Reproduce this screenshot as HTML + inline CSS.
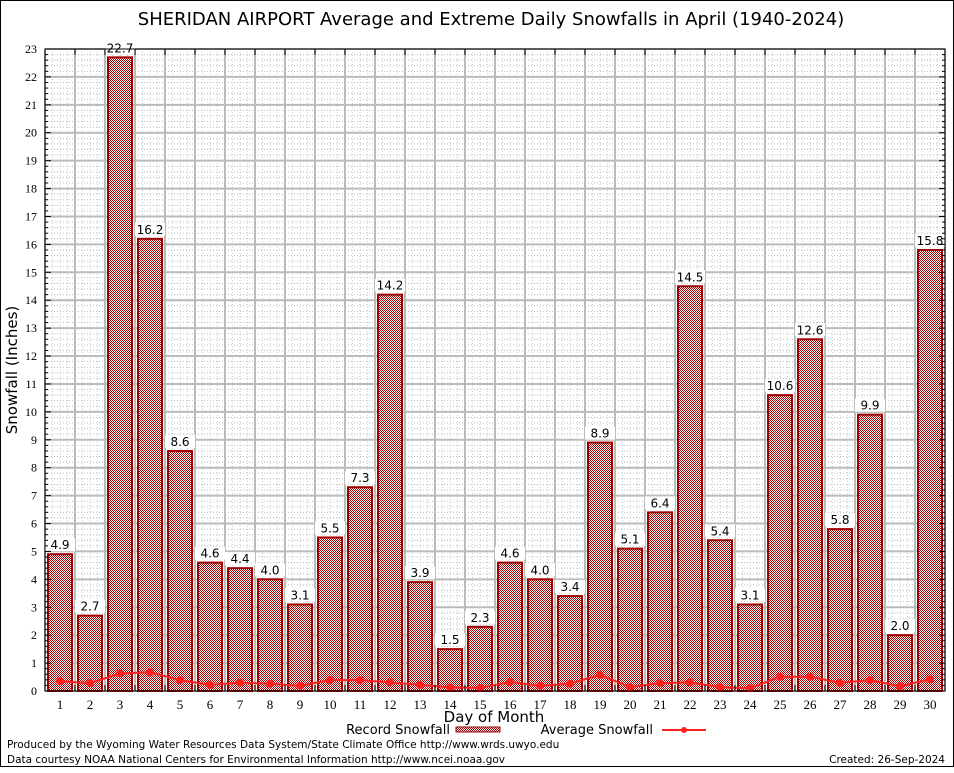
<!DOCTYPE html>
<html><head><meta charset="utf-8"><style>
body{margin:0;background:#fff;}
svg text{font-family:"DejaVu Sans","Liberation Sans",sans-serif;}
svg text.serif{font-family:"Liberation Serif",serif;}
</style></head><body>
<svg id="c" width="954" height="768" xmlns="http://www.w3.org/2000/svg">
<defs>
<pattern id="chk" width="2" height="2" patternUnits="userSpaceOnUse"><rect width="2" height="2" fill="#fff"/><rect width="1" height="1" fill="#a80000"/><rect x="1" y="1" width="1" height="1" fill="#a80000"/></pattern>
</defs>
<rect x="0.5" y="0.5" width="953" height="766" fill="#fff" stroke="#000"/>
<text x="491" y="25" font-size="18" text-anchor="middle">SHERIDAN AIRPORT Average and Extreme Daily Snowfalls in April (1940-2024)</text>
<text transform="translate(17,370) rotate(-90)" font-size="15" text-anchor="middle">Snowfall (Inches)</text>
<text x="494" y="722" font-size="15" text-anchor="middle">Day of Month</text>
<g id="grid"></g><g id="bars"></g><g id="avg"></g><g id="axes"></g>
<g>
<text x="450" y="734" font-size="13" text-anchor="end">Record Snowfall</text>
<rect x="456" y="727" width="44" height="5" fill="url(#chk)" stroke="#a00000"/>
<text x="653" y="734" font-size="13" text-anchor="end">Average Snowfall</text>
<line x1="662" y1="730" x2="706" y2="730" stroke="#ff2020" stroke-width="2"/>
<circle cx="684" cy="730" r="3" fill="#ff2020"/>
</g>
<text x="7" y="748" font-size="10.5">Produced by the Wyoming Water Resources Data System/State Climate Office http://www.wrds.uwyo.edu</text>
<text x="7" y="763" font-size="10.5">Data courtesy NOAA National Centers for Environmental Information http://www.ncei.noaa.gov</text>
<text x="945" y="763" font-size="10.5" text-anchor="end">Created: 26-Sep-2024</text>
</svg>
<script>
const days=[1,2,3,4,5,6,7,8,9,10,11,12,13,14,15,16,17,18,19,20,21,22,23,24,25,26,27,28,29,30];
const recordSnow=[4.9,2.7,22.7,16.2,8.6,4.6,4.4,4.0,3.1,5.5,7.3,14.2,3.9,1.5,2.3,4.6,4.0,3.4,8.9,5.1,6.4,14.5,5.4,3.1,10.6,12.6,5.8,9.9,2.0,15.8];
const avgSnow=[0.35,0.28,0.63,0.67,0.39,0.22,0.3,0.26,0.19,0.39,0.39,0.31,0.22,0.13,0.11,0.32,0.19,0.26,0.58,0.14,0.28,0.31,0.14,0.1,0.51,0.51,0.29,0.39,0.17,0.42];
const yTicks=[0,1,2,3,4,5,6,7,8,9,10,11,12,13,14,15,16,17,18,19,20,21,22,23];
const NS="http://www.w3.org/2000/svg";
const L=45,R=945,T=49,B=691,YMAX=23;
const xs=d=>L+(d-0.5)*(R-L)/days.length;
const ys=v=>B-v*(B-T)/YMAX;
const slot=(R-L)/days.length;
function mk(t,a,p){const e=document.createElementNS(NS,t);for(const k in a)e.setAttribute(k,a[k]);p.appendChild(e);return e;}
const grid=document.getElementById('grid'),bars=document.getElementById('bars'),avg=document.getElementById('avg'),axes=document.getElementById('axes');
mk('rect',{x:L,y:T,width:R-L,height:B-T,fill:'#fff'},grid);
for(let v=0;v<YMAX;v+=0.2){const y=ys(v);mk('line',{x1:L,y1:y,x2:R,y2:y,stroke:'#bbb','stroke-width':1,'stroke-dasharray':'1,2'},grid);}
for(let x=L;x<R;x+=slot/4){mk('line',{x1:x,y1:T,x2:x,y2:B,stroke:'#ccc','stroke-width':1,'stroke-dasharray':'1,2'},grid);}
yTicks.forEach(v=>{const y=ys(v);mk('line',{x1:L,y1:y,x2:R,y2:y,stroke:'#bbb','stroke-width':2},grid);
const t=mk('text',{x:L-8,y:y+4,'font-size':12,'text-anchor':'end','class':'serif'},axes);t.textContent=v;

});
for(let i=0;i<=days.length;i++){const x=L+i*slot;mk('line',{x1:x,y1:T,x2:x,y2:B,stroke:'#bbb','stroke-width':2},grid);
mk('line',{x1:x,y1:T,x2:x,y2:T+6,stroke:'#000'},axes);mk('line',{x1:x,y1:B,x2:x,y2:B-6,stroke:'#000'},axes);}
for(let v=0;v<=YMAX;v+=0.2){const y=ys(v);const w=Math.abs(v-Math.round(v))<0.01?6:3;mk('line',{x1:L,y1:y,x2:L+w,y2:y,stroke:'#000'},axes);mk('line',{x1:R,y1:y,x2:R-w,y2:y,stroke:'#000'},axes);}
days.forEach((d,i)=>{const x=xs(d),v=recordSnow[i],y=ys(v);
const r=mk('rect',{x:x-12,y:y,width:24,height:B-y,fill:'url(#chk)',stroke:'#a00000','stroke-width':2},bars);


mk('rect',{x:x-15,y:y-16,width:30,height:13,fill:'#fff'},bars);
const t=mk('text',{x:x,y:y-5,'font-size':12,'text-anchor':'middle'},bars);t.textContent=v.toFixed(1);


const xt=mk('text',{x:x,y:709,'font-size':13,'text-anchor':'middle','class':'serif'},axes);xt.textContent=d;

});
const pts=days.map((d,i)=>xs(d)+','+ys(avgSnow[i])).join(' ');
const pl=mk('polyline',{points:pts,fill:'none',stroke:'#ff2020','stroke-width':2},avg);


days.forEach((d,i)=>{const c=mk('circle',{cx:xs(d),cy:ys(avgSnow[i]),r:4,fill:'#ff2020'},avg);

});
mk('rect',{x:L,y:T,width:R-L,height:B-T,fill:'none',stroke:'#000','stroke-width':1},axes);
</script>
</body></html>
